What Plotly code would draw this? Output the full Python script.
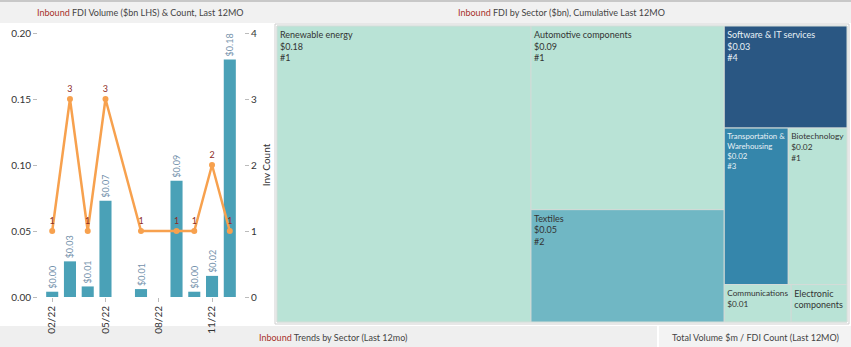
import plotly.graph_objects as go

W, H = 851, 347

# monthly inbound FDI (left panel)
all_months = ["02/22", "03/22", "04/22", "05/22", "06/22", "07/22",
              "08/22", "09/22", "10/22", "11/22", "12/22"]
tick_months = ["02/22", "05/22", "08/22", "11/22"]
bar_months = ["02/22", "03/22", "04/22", "05/22", "07/22", "09/22", "10/22", "11/22", "12/22"]
volume_bn = [0.004, 0.027, 0.008, 0.073, 0.006, 0.088, 0.004, 0.016, 0.180]
inv_count = [1, 3, 1, 3, 1, 1, 1, 2, 1]

# sector treemap (right panel)
sectors = ["Renewable energy", "Automotive components", "Textiles", "Software & IT services",
           "Transportation & Warehousing", "Biotechnology", "Communications",
           "Electronic components"]
sector_display = ["Renewable energy", "Automotive components", "Textiles", "Software & IT services",
                  "Transportation &<br>Warehousing", "Biotechnology", "Communications",
                  "Electronic<br>components"]
sector_value = [0.180, 0.085, 0.052, 0.030, 0.024, 0.022, 0.006, 0.005]
sector_count = [1, 1, 2, 4, 3, 1, 1, 1]

FONT = "Lato"
RED = "#a8322b"


def px_x(p):
    return p / W


def px_y(p):
    return (H - p) / H


# tableau hides lines that do not fit in small tiles
tile_text = []
for lab, v, c in zip(sector_display, sector_value, sector_count):
    if v < 0.0055:
        tile_text.append(lab)
    elif v < 0.01:
        tile_text.append(f"{lab}<br>${v:.2f}")
    else:
        tile_text.append(f"{lab}<br>${v:.2f}<br>#{c}")
tile_font = ["#333333" if c < 3 else "#e8f1f6" for c in sector_count]

fig = go.Figure()

fig.add_trace(go.Bar(
    x=bar_months, y=volume_bn, width=0.68,
    marker=dict(color="#4aa1b7", line=dict(width=0)),
    texttemplate="$%{y:.2f}", textposition="outside", textangle=-90,
    textfont=dict(size=9, color="#7391ab", family=FONT),
    constraintext="none", cliponaxis=False, showlegend=False,
    xaxis="x", yaxis="y"))

fig.add_trace(go.Scatter(
    x=bar_months, y=inv_count, mode="lines+markers+text",
    text=[str(c) for c in inv_count], textposition="top center",
    textfont=dict(size=9, color="#8e2b25", family=FONT),
    line=dict(color="#f7a14e", width=2.5),
    marker=dict(color="#f7a14e", size=6),
    cliponaxis=False, showlegend=False,
    xaxis="x", yaxis="y2"))

fig.add_trace(go.Treemap(
    labels=sectors, parents=[""] * len(sectors), values=sector_value,
    text=tile_text, texttemplate="%{text}", textposition="top left",
    textfont=dict(size=9, color=tile_font, family=FONT),
    marker=dict(colors=sector_count, cmin=1, cmax=4, showscale=False,
                colorscale=[[0, "#b9e3d6"], [1 / 3, "#70b7c4"],
                            [2 / 3, "#3586ab"], [1, "#2a5783"]],
                line=dict(width=1, color="#d4dcd8"), pad=dict(t=0, l=0, r=0, b=0)),
    tiling=dict(packing="squarify", squarifyratio=1.5, pad=0),
    pathbar=dict(visible=False), sort=True, hoverinfo="label+value",
    domain=dict(x=[px_x(277), px_x(847)], y=[px_y(322), px_y(26)])))

shapes = [
    # header band
    dict(type="rect", xref="paper", yref="paper", x0=0, x1=1, y0=px_y(23), y1=1,
         fillcolor="#f1f1f1", line=dict(width=0), layer="below"),
    dict(type="rect", xref="paper", yref="paper", x0=0, x1=1, y0=px_y(2), y1=1,
         fillcolor="#c8c8c8", line=dict(width=0), layer="below"),
    # treemap panel border
    dict(type="rect", xref="paper", yref="paper", x0=px_x(275), x1=px_x(849),
         y0=px_y(324), y1=px_y(24), line=dict(width=1, color="#cfcfcf")),
    # bottom strips
    dict(type="rect", xref="paper", yref="paper", x0=0, x1=px_x(657), y0=0, y1=px_y(326),
         fillcolor="#efefef", line=dict(width=0), layer="below"),
    dict(type="rect", xref="paper", yref="paper", x0=px_x(659), x1=1, y0=0, y1=px_y(326),
         fillcolor="#f3f3f3", line=dict(width=0), layer="below"),
]


def header(text, x, y):
    return dict(text=text, x=px_x(x), y=px_y(y), xref="paper", yref="paper",
                xanchor="center", yanchor="middle", showarrow=False,
                font=dict(size=9, color="#444444", family=FONT))


annotations = [
    header(f"<span style='color:{RED}'>Inbound</span> FDI Volume ($bn LHS) & Count, Last 12MO", 140, 12),
    header(f"<span style='color:{RED}'>Inbound</span> FDI by Sector ($bn), Cumulative Last 12MO", 561, 12),
    header(f"<span style='color:{RED}'>Inbound</span> Trends by Sector (Last 12mo)", 333, 337),
    header("Total Volume $m / FDI Count (Last 12MO)", 755, 337),
]

fig.update_layout(
    width=W, height=H, margin=dict(l=0, r=0, t=0, b=0, autoexpand=False),
    paper_bgcolor="white", plot_bgcolor="white",
    font=dict(family=FONT, size=10, color="#444444"),
    bargap=0.3,
    xaxis=dict(domain=[px_x(38), px_x(244)], type="category",
               categoryorder="array", categoryarray=all_months,
               range=[-0.8, 10.8], tickmode="array", tickvals=tick_months,
               ticktext=tick_months, tickangle=-90, ticks="outside", ticklen=4,
               tickcolor="#bbbbbb", showgrid=False, zeroline=False, showline=False,
               automargin=False, tickfont=dict(size=10, color="#333333")),
    yaxis=dict(domain=[px_y(297), px_y(33)], range=[0, 0.2],
               tickvals=[0, 0.05, 0.10, 0.15, 0.20], tickformat=".2f",
               ticks="outside", ticklen=4, tickcolor="#bbbbbb",
               showgrid=False, zeroline=False, showline=False, automargin=False,
               tickfont=dict(size=10, color="#333333")),
    yaxis2=dict(domain=[px_y(297), px_y(33)], range=[0, 4], overlaying="y", side="right",
                anchor="x", tickvals=[0, 1, 2, 3, 4], ticks="outside", ticklen=4,
                tickcolor="#bbbbbb", showgrid=False, zeroline=False, showline=False,
                automargin=False,
                title=dict(text="Inv Count", font=dict(size=10, color="#333333"), standoff=6),
                tickfont=dict(size=10, color="#333333")),
    shapes=shapes, annotations=annotations,
)

fig.write_html("out.html", config={"displayModeBar": False},
               post_script="document.body.style.margin='0';document.body.style.overflow='hidden';")
